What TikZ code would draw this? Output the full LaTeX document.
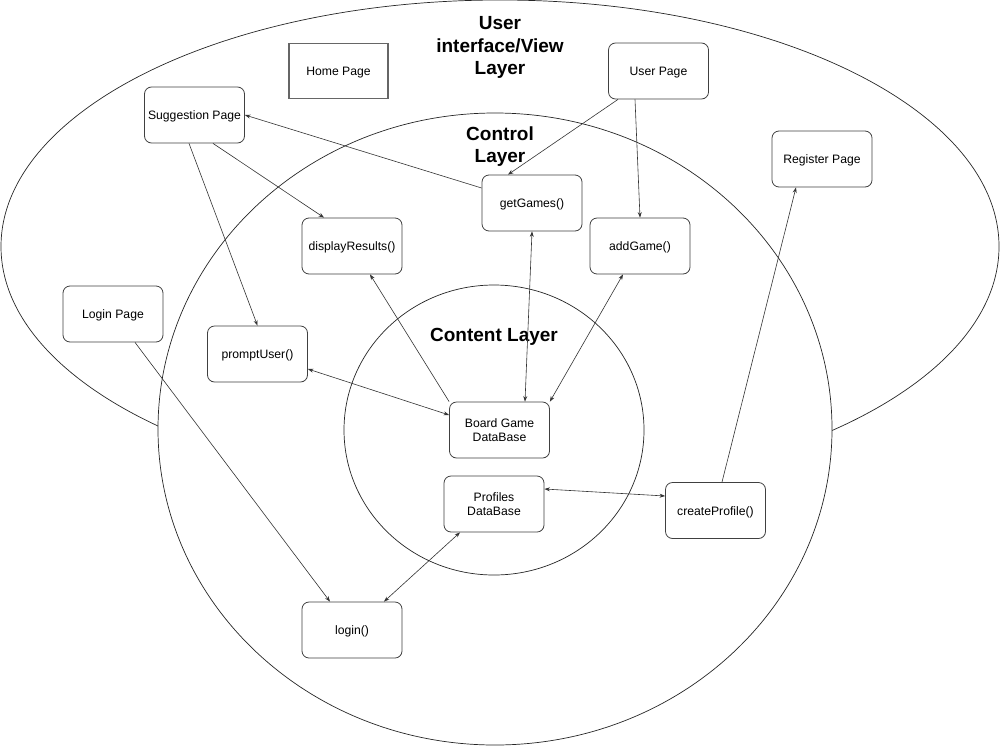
\documentclass[tikz,border=0pt]{standalone}
\usepackage{fontspec}
\setmainfont{Liberation Sans}
\usetikzlibrary{arrows.meta}
\newcommand{\lowtxt}[1]{\raisebox{0pt}[\dimexpr\height+3pt\relax][\depth]{#1}}
\tikzset{
  box/.style={draw=black!75, line width=0.8pt, fill=white, rounded corners=7pt,
    minimum width=100pt, minimum height=56pt, inner sep=2pt, align=center,
    font=\fontsize{12.2}{14}\selectfont},
  plainbox/.style={box, rounded corners=0pt, line width=1.2pt, draw=black!60},
  title/.style={align=center, font=\fontsize{19}{22.5}\selectfont\bfseries},
  layer/.style={draw=black!85, line width=0.7pt},
  conn/.style={draw=black!80, line width=0.6pt, -{Stealth[length=5.5pt,width=4pt]}},
  bconn/.style={draw=black!80, line width=0.6pt, {Stealth[length=5.5pt,width=4pt]}-{Stealth[length=5.5pt,width=4pt]}}
}
\begin{document}
\begin{tikzpicture}[x=1pt,y=-1pt]
\useasboundingbox (0,0) rectangle (1000,747);
% layers
\draw[layer] (500,246.5) ellipse [x radius=499, y radius=246.5];
\draw[layer, fill=white] (495,429) ellipse [x radius=337, y radius=316];
\draw[layer] (494,430) ellipse [x radius=150, y radius=145];
% titles
\node[title] (tui) at (500,47.5) {User\\interface/View\\Layer};
\node[title] (tctl) at (500,146.5) {Control\\Layer};
\node[title] (tcnt) at (494,337) {Content Layer};
% nodes
\node[plainbox, minimum width=99pt, minimum height=55pt] (home) at (338.5,71) {\lowtxt{Home Page}};
\node[box] (user) at (658.5,71) {\lowtxt{User Page}};
\node[box] (sugg) at (194.5,115) {\lowtxt{Suggestion Page}};
\node[box] (reg) at (822,159) {\lowtxt{Register Page}};
\node[box] (getg) at (532,203) {\lowtxt{getGames()}};
\node[box] (disp) at (352,246) {\lowtxt{displayResults()}};
\node[box] (addg) at (640,246) {\lowtxt{addGame()}};
\node[box] (loginp) at (113,314) {\lowtxt{Login Page}};
\node[box] (prompt) at (257.5,354) {\lowtxt{promptUser()}};
\node[box] (bgdb) at (499.5,430) {Board Game\\DataBase};
\node[box] (prof) at (494,504) {Profiles\\DataBase};
\node[box] (create) at (715.5,510.5) {\lowtxt{createProfile()}};
\node[box] (login) at (352,630) {\lowtxt{login()}};
% connectors
\draw[conn] ([xshift=-40.5pt]user.south) -- ([xshift=-24pt]getg.north);
\draw[conn] ([xshift=-23.5pt]user.south) -- (addg.north);
\draw[conn] ([yshift=15pt]getg.west) -- (sugg.east);
\draw[conn] ([xshift=18.5pt]sugg.south) -- ([xshift=-28pt]disp.north);
\draw[conn] ([xshift=-5.5pt]sugg.south) -- (prompt.north);
\draw[bconn] (getg.south) -- ([xshift=25.5pt]bgdb.north);
\draw[bconn] ([xshift=-17pt]addg.south) -- (bgdb.north east);
\draw[conn] (bgdb.north west) -- ([xshift=18pt]disp.south);
\draw[bconn] ([yshift=-15pt]prompt.east) -- ([yshift=15pt]bgdb.west);
\draw[bconn] ([yshift=15pt]prof.east) -- ([yshift=14.5pt]create.west);
\draw[conn] ([xshift=6.5pt]create.north) -- ([xshift=-26pt]reg.south);
\draw[conn] ([xshift=22pt]loginp.south) -- ([xshift=-22pt]login.north);
\draw[bconn] ([xshift=32pt]login.north) -- ([xshift=-34pt]prof.south);
\end{tikzpicture}
\end{document}
